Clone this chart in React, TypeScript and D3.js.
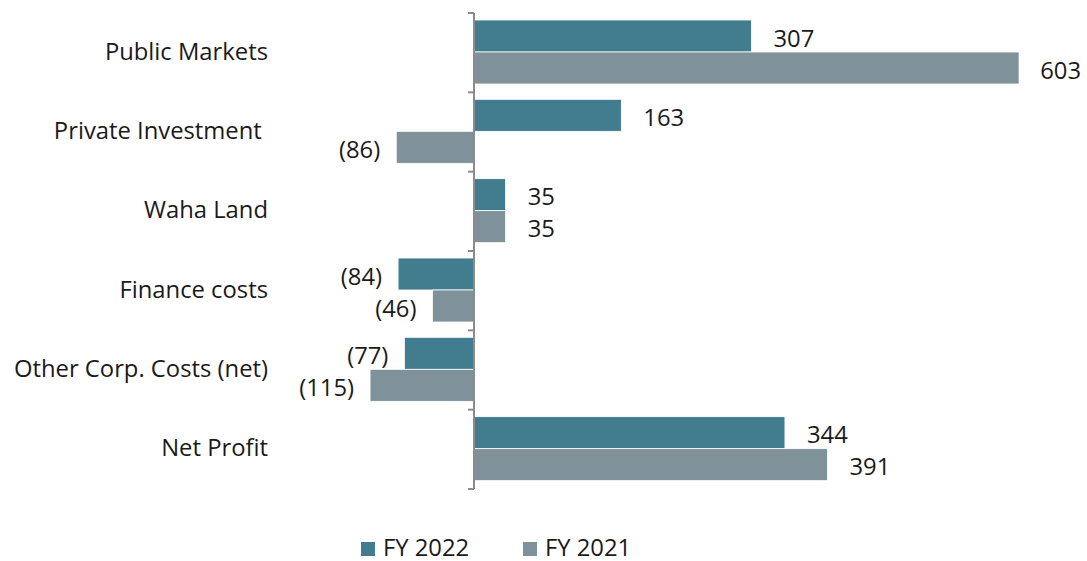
import React from "react";
import * as d3 from "d3";

const categories = ["Public Markets", "Private Investment ", "Waha Land", "Finance costs", "Other Corp. Costs (net)", "Net Profit"];
const fy2022 = [307, 163, 35, -84, -77, 344];
const fy2021 = [603, -86, 35, -46, -115, 391];
const seriesNames = ["FY 2022", "FY 2021"];
const colors = ["#427c8f", "#7f9299"];

const W = 1087;
const H = 561;
const FONT = "'Open Sans', sans-serif";

function fmt(v: number) {
  return v < 0 ? `(${Math.abs(v)})` : `${v}`;
}

export default function App() {
  const x = d3.scaleLinear().domain([0, 600]).range([474, 474 + 600 * 0.9039]);
  const y = d3.scaleBand().domain(categories).range([13, 489]).paddingInner(0).paddingOuter(0);
  const series = [fy2022, fy2021];
  const barH = 32;
  const fontSize = 23.8;

  return (
    <div style={{ position: "absolute", left: 0, top: 0 }}>
      <svg width={W} height={H} style={{ display: "block", background: "#fff" }}>
        {categories.map((c, i) => {
          const y0 = (y(c) as number) + 7;
          return (
            <g key={c}>
              {series.map((s, si) => {
                const v = s[i];
                const xs = x(Math.min(0, v));
                const xe = x(Math.max(0, v));
                const by = y0 + si * barH;
                let lx: number;
                let anchor: "start" | "end";
                if (v >= 0) {
                  lx = xe + 22;
                  anchor = "start";
                  const estW = fmt(v).length * 14;
                  if (lx + estW > W - 4) {
                    lx = W - 6;
                    anchor = "end";
                  }
                } else {
                  lx = xs - 16;
                  anchor = "end";
                }
                return (
                  <g key={si}>
                    <rect x={xs} y={by} width={xe - xs} height={barH} fill={colors[si]} stroke="#ffffff" strokeWidth={0.8} />
                    <text x={lx} y={by + barH / 2 + 10.5} textAnchor={anchor} fontFamily={FONT} fontSize={fontSize} fill="#1a1a1a">
                      {fmt(v)}
                    </text>
                  </g>
                );
              })}
              <text x={268} y={(y(c) as number) + y.bandwidth() / 2 + 7} textAnchor="end" fontFamily={FONT} fontSize={fontSize} fill="#1a1a1a" style={{ whiteSpace: "pre" }}>
                {c}
              </text>
            </g>
          );
        })}
        {/* axis */}
        <line x1={x(0)} x2={x(0)} y1={13} y2={489} stroke="#8c8c8c" strokeWidth={2} />
        {d3.range(categories.length + 1).map((k) => {
          const ty = 13 + k * y.step();
          return <line key={k} x1={x(0) - 6} x2={x(0)} y1={ty} y2={ty} stroke="#8c8c8c" strokeWidth={2} />;
        })}
        {/* legend */}
        {seriesNames.map((n, i) => {
          const lx = i === 0 ? 361 : 523;
          return (
            <g key={n}>
              <rect x={lx} y={542} width={14} height={14} fill={colors[i]} />
              <text x={lx + 22} y={555.5} fontFamily={FONT} fontSize={fontSize} fill="#1a1a1a">
                {n}
              </text>
            </g>
          );
        })}
      </svg>
    </div>
  );
}
